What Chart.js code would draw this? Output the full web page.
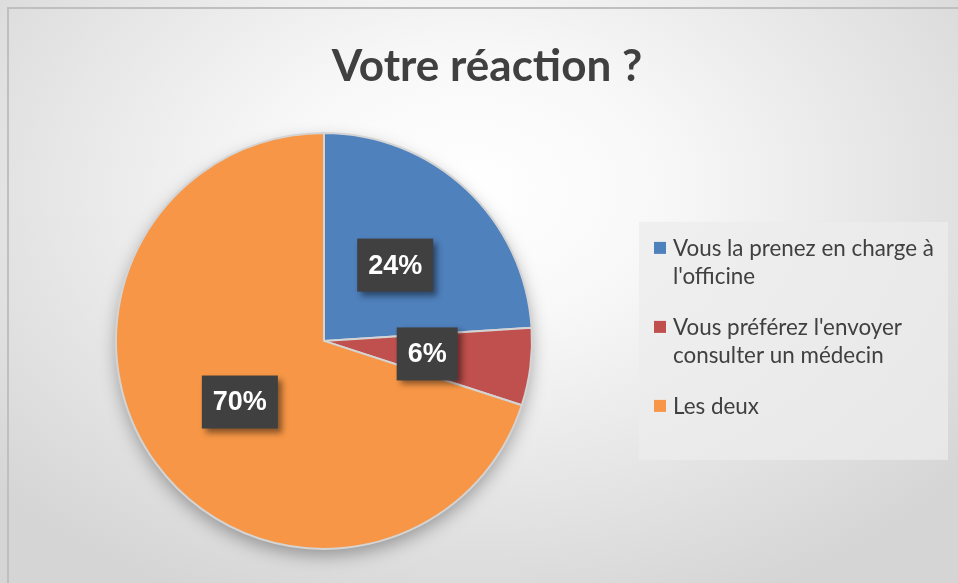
<!DOCTYPE html>
<html lang="fr">
<head>
<meta charset="utf-8">
<title>Votre réaction ?</title>
<script src="https://cdn.jsdelivr.net/npm/chart.js@4"></script>
<style>
  html, body { margin: 0; padding: 0; background: #fff; }
  #wrap { width: 958px; height: 583px; }
</style>
</head>
<body>
<div id="wrap"><canvas id="reaction" width="958" height="583"></canvas></div>
<script>
const chartTitle = "Votre réaction ?"
const categories = [
    "Vous la prenez en charge à l'officine",
    "Vous préférez l'envoyer consulter un médecin",
    "Les deux",
]
const shares = [24, 6, 70]
const sliceColors = ["#4f81bd", "#c0504d", "#f79646"]

const TEXT_COLOR = "#404040"
const LEGEND_FONT = "22.4px Lato, 'Open Sans', sans-serif"

// soft grey radial background + the frame line on the top/left edges
const backdrop = {
    id: "backdrop",
    beforeDraw(chart) {
        const { ctx, width, height } = chart
        ctx.save()
        ctx.translate(470, 190)
        ctx.scale(1, 0.7)
        const grad = ctx.createRadialGradient(0, 0, 0, 0, 0, 640)
        grad.addColorStop(0, "#ffffff")
        grad.addColorStop(0.3, "#f8f8f8")
        grad.addColorStop(1, "#d5d5d5")
        ctx.fillStyle = grad
        ctx.fillRect(-470, -190 / 0.7, width, height / 0.7 + 100)
        ctx.restore()

        ctx.save()
        ctx.strokeStyle = "#bfbfbf"
        ctx.lineWidth = 2
        ctx.strokeRect(8, 8, width + 20, height + 20)
        ctx.restore()
    },
}

// drop shadow sitting under the pie
const pieShadow = {
    id: "pieShadow",
    beforeDatasetsDraw(chart) {
        const arc = chart.getDatasetMeta(0).data[0]
        if (!arc) return
        const { ctx } = chart
        ctx.save()
        ctx.shadowColor = "rgba(0, 0, 0, 0.35)"
        ctx.shadowBlur = 18
        ctx.shadowOffsetY = 7
        ctx.fillStyle = sliceColors[2]
        ctx.beginPath()
        ctx.arc(arc.x, arc.y, arc.outerRadius - 1, 0, Math.PI * 2)
        ctx.fill()
        ctx.restore()
    },
}

// dark boxed percentage labels in the middle of each slice
const sliceLabels = {
    id: "sliceLabels",
    afterDatasetsDraw(chart) {
        const { ctx } = chart
        const values = chart.data.datasets[0].data
        ctx.save()
        ctx.font = "bold 27px 'Liberation Sans', Arial, sans-serif"
        ctx.textAlign = "center"
        ctx.textBaseline = "middle"
        chart.getDatasetMeta(0).data.forEach((arc, i) => {
            const { x, y } = arc.getCenterPoint()
            const text = values[i] + "%"
            const w = ctx.measureText(text).width + 22
            const h = 53
            ctx.save()
            ctx.shadowColor = "rgba(0, 0, 0, 0.45)"
            ctx.shadowBlur = 6
            ctx.shadowOffsetX = 4
            ctx.shadowOffsetY = 4
            ctx.fillStyle = "#404040"
            ctx.fillRect(x - w / 2, y - h / 2, w, h)
            ctx.restore()
            ctx.fillStyle = "#ffffff"
            ctx.fillText(text, x, y + 1)
        })
        ctx.restore()
    },
}

function wrapWords(ctx, text, maxWidth) {
    const lines = []
    let line = ""
    text.split(" ").forEach((word) => {
        const next = line ? line + " " + word : word
        if (line && ctx.measureText(next).width > maxWidth) {
            lines.push(line)
            line = word
        } else {
            line = next
        }
    })
    if (line) lines.push(line)
    return lines
}

// legend on the right, with wrapped labels; registered as a layout box
// so the title still spans the whole width
const sideLegend = {
    id: "sideLegend",
    beforeInit(chart) {
        const box = {
            position: "right",
            weight: 1000,
            fullSize: false,
            options: {},
            isHorizontal() {
                return false
            },
            update(maxWidth, maxHeight) {
                this.width = 326
                this.height = maxHeight
            },
            draw() {
                const { ctx } = chart
                const panelH = 238
                const panelX = this.left + 7
                const panelY = (this.top + this.bottom) / 2 - panelH / 2
                ctx.save()
                ctx.fillStyle = "rgba(236, 236, 236, 0.75)"
                ctx.fillRect(panelX, panelY, 309, panelH)

                ctx.font = LEGEND_FONT
                ctx.textBaseline = "alphabetic"
                ctx.textAlign = "left"
                let baseline = panelY + 34
                chart.data.labels.forEach((label, i) => {
                    ctx.fillStyle = chart.data.datasets[0].backgroundColor[i]
                    ctx.fillRect(panelX + 15, baseline - 14, 12, 12)
                    ctx.fillStyle = TEXT_COLOR
                    const lines = wrapWords(ctx, label, 275)
                    lines.forEach((ln, k) => {
                        ctx.fillText(ln, panelX + 34, baseline + k * 28)
                    })
                    baseline += lines.length * 28 + 23
                })
                ctx.restore()
            },
        }
        Chart.layouts.addBox(chart, box)
    },
}

new Chart(document.getElementById("reaction"), {
    type: "pie",
    data: {
        labels: categories,
        datasets: [
            {
                data: shares,
                backgroundColor: sliceColors,
                borderColor: "#d4d4d4",
                borderWidth: 2,
                radius: 208,
            },
        ],
    },
    options: {
        responsive: false,
        animation: false,
        events: [],
        layout: {
            padding: { left: 16, right: 0, top: 8, bottom: 34 },
        },
        plugins: {
            legend: { display: false },
            tooltip: { enabled: false },
            title: {
                display: true,
                text: chartTitle,
                color: TEXT_COLOR,
                font: { family: "Lato, 'Open Sans', sans-serif", size: 44, weight: "bold", lineHeight: 1.2 },
                padding: { top: 32, bottom: 40 },
            },
        },
    },
    plugins: [backdrop, pieShadow, sliceLabels, sideLegend],
})
</script>
</body>
</html>
